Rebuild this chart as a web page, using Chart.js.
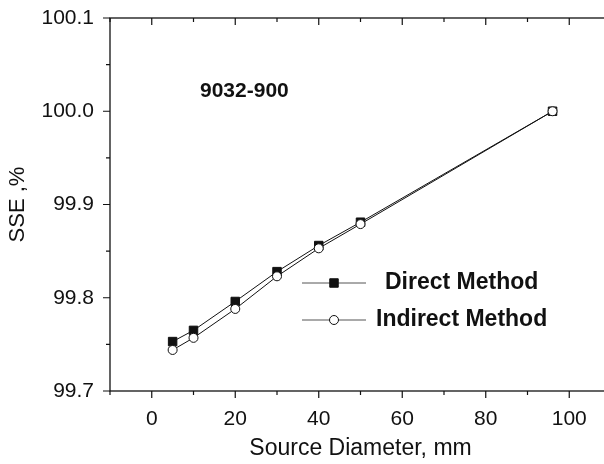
<!DOCTYPE html>
<html>
<head>
<meta charset="utf-8">
<script src="https://cdn.jsdelivr.net/npm/chart.js@4/dist/chart.umd.min.js"></script>
<style>
  html, body { margin: 0; padding: 0; background: #fff; overflow: hidden; }
  #wrap { width: 618px; height: 464px; }
  #sse_chart { width: 618px; height: 464px; display: block; }
</style>
</head>
<body>
<div id="wrap"><canvas id="sse_chart" width="618" height="464"></canvas></div>
<script>
// source diameters (mm) and SSE values
const diameters = [5, 10, 20, 30, 40, 50, 96];
const directSSE = [99.753, 99.765, 99.796, 99.828, 99.856, 99.881, 100.000];
const indirectSSE = [99.744, 99.757, 99.788, 99.823, 99.853, 99.879, 100.000];
const seriesNames = ['Direct Method', 'Indirect Method'];
const xTickValues = [0, 20, 40, 60, 80, 100];
const yTickValues = [99.7, 99.8, 99.9, 100.0, 100.1];
const panelLabel = '9032-900';

const FONT = '"Liberation Sans", Arial, Helvetica, sans-serif';

// frame + tick marks (major/minor), legend and panel label
const framePlugin = {
  id: 'frame',
  afterDraw(chart) {
    const { ctx, chartArea: a, scales } = chart;
    const xs = scales.x, ys = scales.y;
    ctx.save();
    ctx.strokeStyle = '#111';
    ctx.lineWidth = 1.3;
    ctx.strokeRect(a.left, a.top, a.right - a.left, a.bottom - a.top);

    ctx.lineWidth = 1.2;
    ctx.beginPath();
    for (let v = xs.min; v <= xs.max + 1e-9; v += 10) {
      const px = xs.getPixelForValue(v);
      const major = Math.round(v) % 20 === 0;
      const len = major ? 7 : 4;
      ctx.moveTo(px, a.bottom); ctx.lineTo(px, a.bottom + len);
      ctx.moveTo(px, a.top); ctx.lineTo(px, a.top + len);
    }
    for (let i = 0; i <= 8; i++) {
      const v = ys.min + i * 0.05;
      const py = ys.getPixelForValue(v);
      const len = i % 2 === 0 ? 7 : 4;
      ctx.moveTo(a.left, py); ctx.lineTo(a.left - len, py);
      ctx.moveTo(a.right, py); ctx.lineTo(a.right - len, py);
    }
    ctx.stroke();

    // panel label
    ctx.fillStyle = '#111';
    ctx.font = 'bold 21px ' + FONT;
    ctx.textBaseline = 'middle';
    ctx.textAlign = 'left';
    ctx.fillText(panelLabel, 200, 91);

    // legend
    const rows = [
      { y: 283, textX: 385, ds: chart.data.datasets[0] },
      { y: 320, textX: 376, ds: chart.data.datasets[1] }
    ];
    rows.forEach(r => {
      ctx.strokeStyle = '#555';
      ctx.lineWidth = 1;
      ctx.beginPath();
      ctx.moveTo(302, r.y); ctx.lineTo(366, r.y);
      ctx.stroke();
      ctx.fillStyle = r.ds.pointBackgroundColor;
      ctx.strokeStyle = r.ds.pointBorderColor;
      ctx.lineWidth = r.ds.pointBorderWidth;
      ctx.beginPath();
      if (r.ds.pointStyle === 'rect') {
        const s = r.ds.pointRadius * Math.SQRT1_2;
        ctx.rect(334 - s, r.y - s, 2 * s, 2 * s);
      } else {
        ctx.arc(334, r.y, r.ds.pointRadius, 0, Math.PI * 2);
      }
      ctx.fill();
      ctx.stroke();
      ctx.fillStyle = '#111';
      ctx.font = 'bold 23px ' + FONT;
      ctx.fillText(r.ds.label, r.textX, r.y);
    });
    ctx.restore();
  }
};

const ctx = document.getElementById('sse_chart').getContext('2d');
new Chart(ctx, {
  type: 'line',
  data: {
    datasets: [{
      label: seriesNames[0],
      data: diameters.map((d, i) => ({ x: d, y: directSSE[i] })),
      borderColor: '#111',
      borderWidth: 1,
      pointStyle: 'rect',
      pointRadius: 6,
      pointBackgroundColor: '#111',
      pointBorderColor: '#111',
      pointBorderWidth: 1,
      tension: 0,
      order: 1
    }, {
      label: seriesNames[1],
      data: diameters.map((d, i) => ({ x: d, y: indirectSSE[i] })),
      borderColor: '#111',
      borderWidth: 1,
      pointStyle: 'circle',
      pointRadius: 4.5,
      pointBackgroundColor: '#fff',
      pointBorderColor: '#111',
      pointBorderWidth: 1,
      tension: 0,
      order: 0
    }]
  },
  options: {
    responsive: false,
    animation: false,
    layout: { padding: { top: 18, right: 0, left: 0, bottom: 0 } },
    plugins: { legend: { display: false }, tooltip: { enabled: false } },
    scales: {
      x: {
        type: 'linear',
        min: -10,
        max: 110,
        afterBuildTicks(s) { s.ticks = xTickValues.map(v => ({ value: v })); },
        afterFit(s) { s.height = 73; s.paddingLeft = 0; s.paddingRight = 0; },
        grid: { display: true, drawOnChartArea: false, drawTicks: false },
        border: { display: false },
        ticks: {
          padding: 16,
          color: '#111',
          font: { family: FONT, size: 21 },
          maxRotation: 0,
          autoSkip: false,
          callback: v => String(v)
        },
        title: {
          display: true,
          text: 'Source Diameter, mm',
          color: '#111',
          font: { family: FONT, size: 23 },
          padding: { top: 0, bottom: 2 }
        }
      },
      y: {
        type: 'linear',
        min: 99.7,
        max: 100.1,
        afterBuildTicks(s) { s.ticks = yTickValues.map(v => ({ value: v })); },
        afterFit(s) { s.width = 110; s.paddingTop = 0; s.paddingBottom = 0; },
        grid: { display: true, drawOnChartArea: false, drawTicks: false },
        border: { display: false },
        ticks: {
          padding: 16,
          color: '#111',
          font: { family: FONT, size: 21 },
          autoSkip: false,
          callback: v => Number(v).toFixed(1)
        },
        title: {
          display: true,
          text: 'SSE ,%',
          color: '#111',
          font: { family: FONT, size: 22 },
          padding: { top: 5, bottom: 0 }
        }
      }
    }
  },
  plugins: [framePlugin]
});
</script>
</body>
</html>
